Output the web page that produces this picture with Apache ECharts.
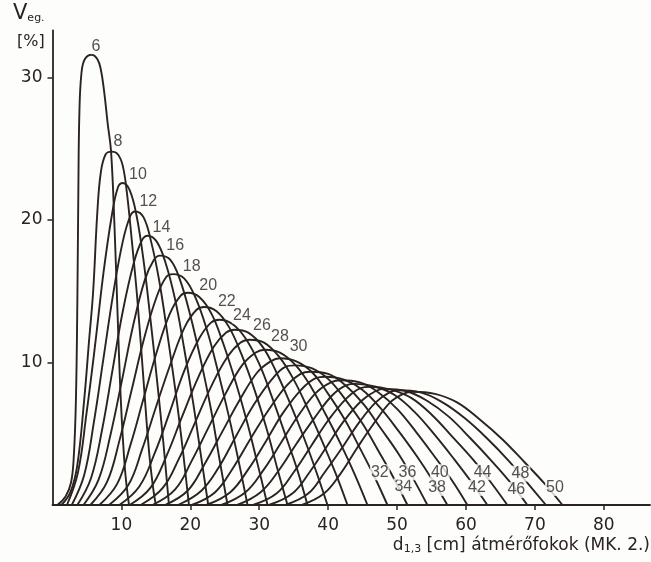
<!DOCTYPE html>
<html>
<head>
<meta charset="utf-8">
<script src="https://cdn.jsdelivr.net/npm/echarts@6/dist/echarts.min.js"></script>
<style>
  html, body { margin: 0; padding: 0; background: #fdfdfb; }
  #chart { width: 651px; height: 562px; }
</style>
</head>
<body>
<div id="chart"></div>
<script>
// Volume share (%) by diameter class for stands of mean diameter 6 ... 50 cm
const classes = [6, 8, 10, 12, 14, 16, 18, 20, 22, 24, 26, 28, 30, 32, 34, 36, 38, 40, 42, 44, 46, 48, 50];

// [diameter cm, volume %] points of each curve
const v6  = [[0.7,0],[1.9,0.6],[2.7,1.6],[3.1,3.5],[3.4,7.4],[3.6,14],[3.75,22],[3.9,27.5],[4.2,30.3],[4.7,31.3],[5.7,31.6],[6.5,31.3],[7.0,30.6],[7.5,29.0],[8.0,26.8],[8.5,24.8],[9.0,19.5],[9.4,14.0],[9.9,7.5],[10.5,2.6],[11.1,0]];
const v8  = [[1.3,0],[2.6,0.9],[3.6,2.8],[4.6,7.4],[5.3,11.5],[5.9,15],[6.5,20.5],[7.0,23.3],[7.7,24.6],[8.6,24.8],[9.5,24.6],[10.2,23.8],[10.8,21.9],[11.5,18.6],[12.3,14.5],[13.2,8.8],[14.0,3.8],[14.6,1.2],[15.0,0]];
const v10 = [[2.1,0],[3.7,2.3],[4.9,6.3],[6.2,11.3],[7.4,16.3],[8.6,20.3],[9.5,22.3],[10.2,22.6],[11.2,22.1],[12.2,20.3],[13.2,17.2],[14.2,13.1],[15.2,8.6],[16.1,4.3],[16.9,0]];
const v12 = [[2.8,0],[4.6,2.1],[6.0,5.8],[7.4,10.3],[8.8,14.8],[10.2,18.5],[11.3,20.3],[12.0,20.6],[13.2,20.2],[14.3,18.5],[15.5,15.7],[16.7,11.9],[17.9,7.8],[18.9,3.9],[19.8,0]];
const v14 = [[3.6,0],[5.6,1.9],[7.2,5.3],[8.7,9.45],[10.2,13.6],[11.8,17.0],[13.0,18.6],[13.8,18.9],[15.1,18.5],[16.4,17.0],[17.8,14.4],[19.1,11.0],[20.4,7.2],[21.5,3.6],[22.6,0]];
const v16 = [[4.5,0],[6.7,1.8],[8.4,4.9],[10.1,8.8],[11.7,12.6],[13.4,15.8],[14.7,17.2],[15.6,17.5],[17.1,17.2],[18.5,15.8],[20.0,13.3],[21.5,10.2],[23.0,6.7],[24.2,3.3],[25.4,0]];
const v18 = [[5.5,0],[7.9,1.6],[9.7,4.5],[11.5,8.1],[13.3,11.7],[15.1,14.6],[16.5,16.0],[17.5,16.2],[19.1,15.9],[20.7,14.6],[22.4,12.3],[24.0,9.4],[25.6,6.2],[27.0,3.1],[28.3,0]];
const v20 = [[6.8,0],[9.4,1.5],[11.3,4.2],[13.2,7.45],[15.1,10.7],[17.0,13.4],[18.6,14.7],[19.6,14.9],[21.3,14.6],[23.1,13.4],[24.8,11.3],[26.6,8.6],[28.3,5.7],[29.8,2.8],[31.2,0]];
const v22 = [[8.2,0],[11.0,1.4],[13.0,3.9],[15.1,7.0],[17.2,10.0],[19.2,12.5],[20.9,13.7],[22.0,13.9],[23.8,13.6],[25.6,12.5],[27.4,10.6],[29.3,8.1],[31.1,5.3],[32.6,2.6],[34.1,0]];
const v24 = [[9.7,0],[12.6,1.3],[14.8,3.6],[17.0,6.5],[19.1,9.4],[21.3,11.7],[23.0,12.8],[24.2,13.0],[26.1,12.7],[28.0,11.7],[30.0,9.9],[31.9,7.5],[33.8,4.9],[35.5,2.5],[37.0,0]];
const v26 = [[11.2,0],[14.2,1.2],[16.5,3.4],[18.8,6.2],[21.1,8.9],[23.4,11.1],[25.2,12.1],[26.4,12.3],[28.4,12.1],[30.5,11.1],[32.5,9.3],[34.5,7.1],[36.5,4.7],[38.3,2.3],[39.9,0]];
const v28 = [[12.8,0],[16.0,1.2],[18.3,3.2],[20.7,5.8],[23.1,8.4],[25.4,10.4],[27.3,11.4],[28.6,11.6],[30.7,11.4],[32.9,10.4],[35.0,8.8],[37.1,6.7],[39.2,4.4],[41.1,2.2],[42.8,0]];
const v30 = [[14.5,0],[17.8,1.1],[20.2,3.1],[22.7,5.5],[25.1,7.8],[27.5,9.8],[29.5,10.7],[30.8,10.9],[33.0,10.7],[35.3,9.8],[37.5,8.3],[39.7,6.3],[42.0,4.1],[43.9,2.1],[45.7,0]];
const v32 = [[16.3,0],[19.6,1.0],[22.1,2.9],[24.7,5.2],[27.2,7.4],[29.7,9.3],[31.7,10.1],[33.0,10.3],[35.3,10.1],[37.7,9.3],[40.0,7.8],[42.4,6.0],[44.7,3.9],[46.7,2.0],[48.6,0]];
const v34 = [[18.2,0],[21.6,1.0],[24.2,2.7],[26.7,4.9],[29.3,7.1],[31.8,8.8],[33.8,9.7],[35.2,9.8],[37.6,9.6],[40.1,8.8],[42.5,7.4],[45.0,5.7],[47.4,3.7],[49.5,1.9],[51.5,0]];
const v36 = [[20.2,0],[23.6,0.9],[26.2,2.6],[28.8,4.7],[31.4,6.7],[34.0,8.4],[36.0,9.2],[37.4,9.35],[40.0,9.2],[42.5,8.4],[45.1,7.1],[47.6,5.4],[50.2,3.6],[52.4,1.8],[54.4,0]];
const v38 = [[22.3,0],[25.8,0.9],[28.4,2.5],[31.0,4.5],[33.5,6.5],[36.1,8.1],[38.2,8.9],[39.6,9.0],[42.3,8.8],[44.9,8.1],[47.6,6.8],[50.2,5.2],[52.9,3.4],[55.2,1.7],[57.3,0]];
const v40 = [[24.5,0],[28.0,0.9],[30.6,2.45],[33.2,4.4],[35.7,6.3],[38.3,7.9],[40.4,8.6],[41.8,8.75],[44.6,8.6],[47.3,7.9],[50.1,6.7],[52.8,5.1],[55.6,3.3],[58.0,1.7],[60.2,0]];
const v42 = [[26.8,0],[30.2,0.9],[32.8,2.4],[35.4,4.3],[38.0,6.1],[40.6,7.7],[42.6,8.4],[44.0,8.5],[46.9,8.3],[49.7,7.7],[52.6,6.5],[55.5,4.9],[58.3,3.2],[60.8,1.6],[63.1,0]];
const v44 = [[29.1,0],[32.5,0.8],[35.0,2.3],[37.6,4.2],[40.1,6.0],[42.7,7.5],[44.7,8.2],[46.1,8.3],[49.1,8.1],[52.1,7.5],[55.1,6.3],[58.0,4.8],[61.0,3.2],[63.6,1.6],[66.0,0]];
const v46 = [[31.4,0],[34.8,0.8],[37.3,2.3],[39.8,4.1],[42.3,5.9],[44.8,7.3],[46.9,8.0],[48.2,8.15],[51.3,8.0],[54.4,7.3],[57.5,6.2],[60.6,4.7],[63.7,3.1],[66.4,1.6],[68.9,0]];
const v48 = [[33.8,0],[37.1,0.8],[39.5,2.3],[42.0,4.0],[44.5,5.8],[46.9,7.2],[48.9,7.9],[50.2,8.05],[53.4,7.9],[56.6,7.2],[59.8,6.1],[63.0,4.7],[66.2,3.1],[69.0,1.5],[71.6,0]];
const v50 = [[36.2,0],[39.4,0.8],[41.8,2.2],[44.2,4.0],[46.6,5.7],[49.0,7.2],[50.9,7.8],[52.2,7.95],[55.5,7.8],[58.7,7.2],[62.0,6.0],[65.3,4.6],[68.5,3.0],[71.4,1.5],[74.0,0]];

const curves = [v6, v8, v10, v12, v14, v16, v18, v20, v22, v24, v26, v28, v30, v32, v34, v36, v38, v40, v42, v44, v46, v48, v50];

// tick values
const xTicks = [10, 20, 30, 40, 50, 60, 70, 80];
const yTicks = [10, 20, 30];

// where each class number is written (axis units)
const labelAt = [
  [6.3, 32.2], [9.5, 25.5], [12.4, 23.2], [13.9, 21.3], [15.8, 19.5], [17.8, 18.2], [20.2, 16.7],
  [22.6, 15.4], [25.3, 14.3], [27.5, 13.3], [30.4, 12.6], [33.0, 11.8], [35.7, 11.1],
  [47.5, 2.3], [50.9, 1.3], [51.5, 2.3], [55.8, 1.2], [56.2, 2.3], [61.6, 1.2], [62.4, 2.3],
  [67.3, 1.05], [67.9, 2.2], [72.9, 1.2]
];

const ink = '#2a2320';
const paper = '#fdfdfb';
const font = '"DejaVu Sans", "Liberation Sans", sans-serif';
const numFont = '"Liberation Sans", Arial, sans-serif';

const chart = echarts.init(document.getElementById('chart'), null, { renderer: 'canvas' });

const lineSeries = curves.map((pts, i) => ({
  type: 'line',
  name: String(classes[i]),
  data: pts,
  smooth: 0.4,
  showSymbol: false,
  silent: true,
  z: 2,
  lineStyle: { color: ink, width: 1.9 }
}));

const labelSeries = {
  type: 'scatter',
  data: labelAt.map((p, i) => ({ value: p, name: String(classes[i]) })),
  symbolSize: 0,
  silent: true,
  z: 5,
  label: {
    show: true,
    position: 'inside',
    formatter: p => p.name,
    color: ink,
    fontFamily: numFont,
    fontSize: 16,
    backgroundColor: paper,
    padding: [0, 1]
  }
};

chart.setOption({
  backgroundColor: paper,
  animation: false,
  grid: { left: 52.5, right: 1, top: 30.5, bottom: 57 },
  xAxis: {
    type: 'value',
    min: 0,
    max: 86.7,
    interval: 10,
    splitLine: { show: false },
    axisLine: { lineStyle: { color: ink, width: 1.8 } },
    axisTick: { show: true, length: 5, inside: false, customValues: xTicks, lineStyle: { color: ink, width: 1.5 } },
    axisLabel: { customValues: xTicks, margin: 12, color: ink, fontFamily: font, fontSize: 17 }
  },
  yAxis: {
    type: 'value',
    min: 0,
    max: 33.3,
    interval: 10,
    splitLine: { show: false },
    axisLine: { show: true, lineStyle: { color: ink, width: 1.8 } },
    axisTick: { show: true, length: 5, inside: false, customValues: yTicks, lineStyle: { color: ink, width: 1.5 } },
    axisLabel: { customValues: yTicks, margin: 10, color: ink, fontFamily: font, fontSize: 17 }
  },
  graphic: [
    {
      type: 'text', left: 13, top: 3,
      style: {
        text: '{v|V}{s|eg.}',
        rich: {
          v: { fontFamily: font, fontSize: 21, fill: ink, verticalAlign: 'bottom' },
          s: { fontFamily: font, fontSize: 11, fill: ink, padding: [9, 0, 0, 0], verticalAlign: 'bottom' }
        }
      }
    },
    {
      type: 'text', left: 17, top: 34,
      style: { text: '[%]', fontFamily: font, fontSize: 16, fill: ink }
    },
    {
      type: 'text', right: 1, top: 537,
      style: {
        text: '{d|d}{s|1,3}{t| [cm] átmérőfokok (MK. 2.)}',
        rich: {
          d: { fontFamily: font, fontSize: 17, fill: ink },
          s: { fontFamily: font, fontSize: 11, fill: ink, padding: [8, 0, 0, 0] },
          t: { fontFamily: font, fontSize: 17, fill: ink }
        }
      }
    }
  ],
  series: lineSeries.concat([labelSeries])
});
</script>
</body>
</html>
